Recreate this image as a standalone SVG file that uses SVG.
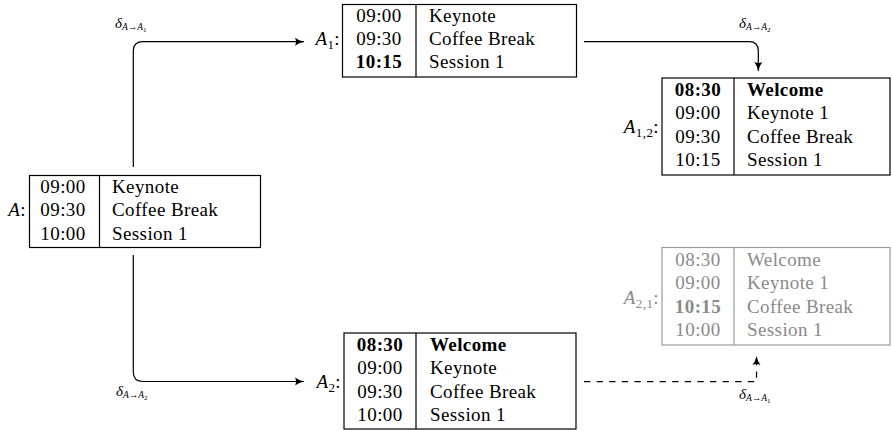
<svg xmlns="http://www.w3.org/2000/svg" width="892" height="431" viewBox="0 0 892 431">
<style>
text{font-family:"Liberation Serif","Times New Roman",serif;font-size:19px;letter-spacing:0.4px;fill:#000}
.box{fill:#fff;stroke:#000;stroke-width:1.2}
.div{stroke:#000;stroke-width:1.2}
.t{text-anchor:middle}
.b{font-weight:bold}
.lab{text-anchor:end}
.it{font-style:italic}
.sub{font-size:13px;font-style:normal}
.gray text{fill:#8a8a8a}
.gray .box{stroke:#9a9a9a}
.gray .div{stroke:#9a9a9a}
.edge{fill:none;stroke:#000;stroke-width:1.2}
.dash{stroke-dasharray:6.3 6.3}
.d{font-size:15px;font-style:italic;letter-spacing:0}
.ds{font-size:9.5px;font-style:italic}
.ds1{font-size:7px;font-style:normal}
</style>
<defs>
<marker id="ah" markerUnits="userSpaceOnUse" markerWidth="10" markerHeight="10" refX="9" refY="4" orient="auto" overflow="visible">
<path d="M0,0 Q4,3 9,4 Q4,5 0,8 Q2,4 0,0 z" fill="#000" stroke="none"/>
</marker>
</defs>

<g id="connectors">
<path class="edge" d="M133.3,167 V51 Q133.3,41.7 143,41.7 H304" marker-end="url(#ah)"/>
<path class="edge" d="M133.3,255 V372 Q133.3,381.5 143,381.5 H304" marker-end="url(#ah)"/>
<path class="edge" d="M584,41.7 H749 Q758.3,41.7 758.3,51 V71" marker-end="url(#ah)"/>
<path class="edge dash" d="M584,381.7 H756.5 V356" marker-end="url(#ah)"/>
<text class="d" x="115" y="28">δ<tspan class="ds" dy="2">A→A</tspan><tspan class="ds1" dy="1.5">1</tspan></text>
<text class="d" x="116" y="396">δ<tspan class="ds" dy="2">A→A</tspan><tspan class="ds1" dy="1.5">2</tspan></text>
<text class="d" x="739" y="28">δ<tspan class="ds" dy="2">A→A</tspan><tspan class="ds1" dy="1.5">2</tspan></text>
<text class="d" x="739" y="399">δ<tspan class="ds" dy="2">A→A</tspan><tspan class="ds1" dy="1.5">1</tspan></text>
</g>

<g id="A">
<rect class="box" x="29.5" y="175.5" width="231" height="72"/>
<line class="div" x1="99.5" y1="175.5" x2="99.5" y2="247.5"/>
<text class="lab" x="26" y="216"><tspan class="it">A</tspan>:</text>
<text class="t" x="63" y="193">09:00</text><text x="112" y="193">Keynote</text>
<text class="t" x="63" y="216.3">09:30</text><text x="112" y="216.3">Coffee Break</text>
<text class="t" x="63" y="239.6">10:00</text><text x="112" y="239.6">Session 1</text>
</g>

<g id="A1">
<rect class="box" x="342.5" y="4.5" width="234" height="72.5"/>
<line class="div" x1="416" y1="4.5" x2="416" y2="77"/>
<text class="lab" x="340" y="44.5"><tspan class="it">A</tspan><tspan class="sub" dy="4">1</tspan><tspan dy="-4">:</tspan></text>
<text class="t" x="379" y="21.8">09:00</text><text x="429" y="21.8">Keynote</text>
<text class="t" x="379" y="45.1">09:30</text><text x="429" y="45.1">Coffee Break</text>
<text class="t b" x="379" y="68.4">10:15</text><text x="429" y="68.4">Session 1</text>
</g>

<g id="A12">
<rect class="box" x="662" y="78" width="228" height="97"/>
<line class="div" x1="734" y1="78" x2="734" y2="175"/>
<text class="lab" x="659" y="133"><tspan class="it">A</tspan><tspan class="sub" dy="4">1,2</tspan><tspan dy="-4">:</tspan></text>
<text class="t b" x="698" y="96">08:30</text><text class="b" x="747" y="96">Welcome</text>
<text class="t" x="698" y="119.3">09:00</text><text x="747" y="119.3">Keynote 1</text>
<text class="t" x="698" y="142.6">09:30</text><text x="747" y="142.6">Coffee Break</text>
<text class="t" x="698" y="165.9">10:15</text><text x="747" y="165.9">Session 1</text>
</g>

<g id="A21" class="gray">
<rect class="box" x="662" y="247.5" width="228" height="97.5"/>
<line class="div" x1="734" y1="247.5" x2="734" y2="345"/>
<text class="lab" x="659" y="304"><tspan class="it">A</tspan><tspan class="sub" dy="4">2,1</tspan><tspan dy="-4">:</tspan></text>
<text class="t" x="698" y="266">08:30</text><text x="747" y="266">Welcome</text>
<text class="t" x="698" y="289.3">09:00</text><text x="747" y="289.3">Keynote 1</text>
<text class="t b" x="698" y="312.6">10:15</text><text x="747" y="312.6">Coffee Break</text>
<text class="t" x="698" y="335.9">10:00</text><text x="747" y="335.9">Session 1</text>
</g>

<g id="A2">
<rect class="box" x="344" y="333" width="232" height="96"/>
<line class="div" x1="416" y1="333" x2="416" y2="429"/>
<text class="lab" x="341" y="387.5"><tspan class="it">A</tspan><tspan class="sub" dy="4">2</tspan><tspan dy="-4">:</tspan></text>
<text class="t b" x="380" y="351">08:30</text><text class="b" x="430" y="351">Welcome</text>
<text class="t" x="380" y="374.3">09:00</text><text x="430" y="374.3">Keynote</text>
<text class="t" x="380" y="397.6">09:30</text><text x="430" y="397.6">Coffee Break</text>
<text class="t" x="380" y="420.9">10:00</text><text x="430" y="420.9">Session 1</text>
</g>
</svg>
